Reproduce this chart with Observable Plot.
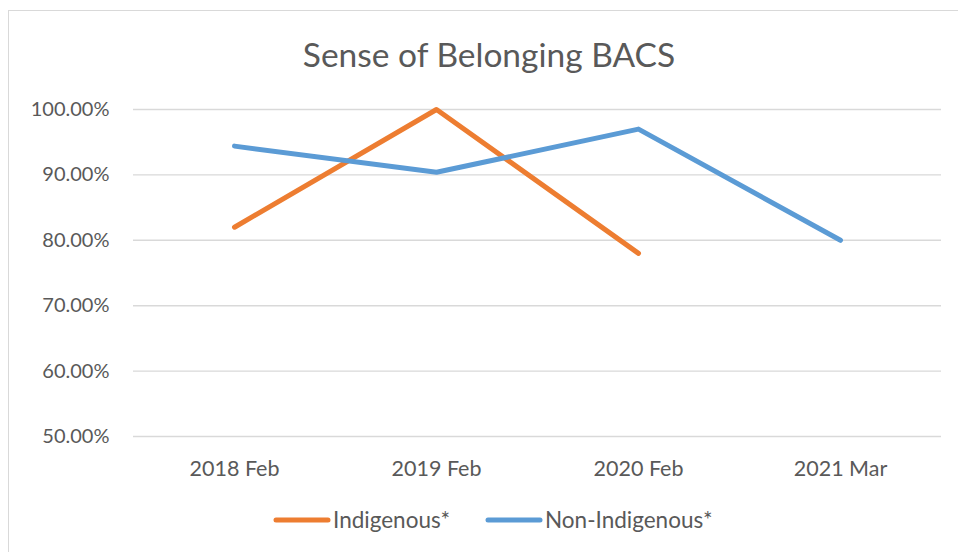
<!DOCTYPE html>
<html><head><meta charset="utf-8">
<script src="https://cdn.jsdelivr.net/npm/d3@7"></script>
<script src="https://cdn.jsdelivr.net/npm/@observablehq/plot@0.6"></script>
<style>
html,body{margin:0;padding:0;background:#fff;}
#wrap{position:relative;width:958px;height:552px;overflow:hidden;font-family:Lato,"Open Sans",sans-serif;color:#595959;}
#frame{position:absolute;left:8px;top:10px;width:980px;height:580px;border:1.3px solid #d9d9d9;box-sizing:border-box;}
#title{position:absolute;left:0;width:978px;top:34px;text-align:center;font-size:33.5px;line-height:40px;}
#chart{position:absolute;left:0;top:0;}
.leg{position:absolute;top:506px;display:flex;align-items:center;font-size:22.5px;line-height:28px;}
.leg svg{display:block;margin-right:2px;}
</style></head>
<body>
<div id="wrap">
  <div id="frame"></div>
  <div id="chart"></div>
  <div id="title"></div>
  <div id="legend"></div>
</div>
<script>
const chartTitle = "Sense of Belonging BACS";
const categories = ["2018 Feb", "2019 Feb", "2020 Feb", "2021 Mar"];
const indigenous = [82.0, 100.0, 78.0, null];
const nonIndigenous = [94.4, 90.4, 97.0, 80.0];
const seriesNames = ["Indigenous*", "Non-Indigenous*"];
const seriesColors = ["#ED7D31", "#5B9BD5"];
const yTicks = [50, 60, 70, 80, 90, 100];

const seriesValues = [indigenous, nonIndigenous];
const rows = [];
seriesNames.forEach((name, i) => {
  categories.forEach((c, j) => {
    const v = seriesValues[i][j];
    if (v != null) rows.push({series: name, cat: c, value: v});
  });
});

document.getElementById("title").textContent = chartTitle;

const plot = Plot.plot({
  width: 958,
  height: 552,
  marginLeft: 133,
  marginRight: 17,
  marginTop: 109,
  marginBottom: 116,
  style: {fontFamily: "Lato, 'Open Sans', sans-serif", fontSize: "20px", color: "#595959", background: "transparent", overflow: "visible"},
  x: {type: "point", domain: categories, padding: 0.5, label: null},
  y: {domain: [50, 100], label: null},
  color: {domain: seriesNames, range: seriesColors},
  marks: [
    Plot.gridY(yTicks, {stroke: "#d9d9d9", strokeOpacity: 1, strokeWidth: 1.4}),
    Plot.axisY(yTicks, {tickSize: 0, tickPadding: 24, fontSize: 20, tickFormat: d => d.toFixed(2) + "%", label: null}),
    Plot.axisX(categories, {tickSize: 0, tickPadding: 24, fontSize: 21.5, label: null}),
    Plot.line(rows, {x: "cat", y: "value", stroke: "series", strokeWidth: 5, strokeLinecap: "round", strokeLinejoin: "round"})
  ]
});
document.getElementById("chart").appendChild(plot);

const legend = document.getElementById("legend");
const legLefts = [273, 485];
seriesNames.forEach((name, i) => {
  const item = document.createElement("div");
  item.className = "leg";
  item.style.left = legLefts[i] + "px";
  item.innerHTML = `<svg width="58" height="10"><line x1="3" y1="5" x2="55" y2="5" stroke="${seriesColors[i]}" stroke-width="5" stroke-linecap="round"/></svg><span>${name}</span>`;
  legend.appendChild(item);
});
</script>
</body></html>
